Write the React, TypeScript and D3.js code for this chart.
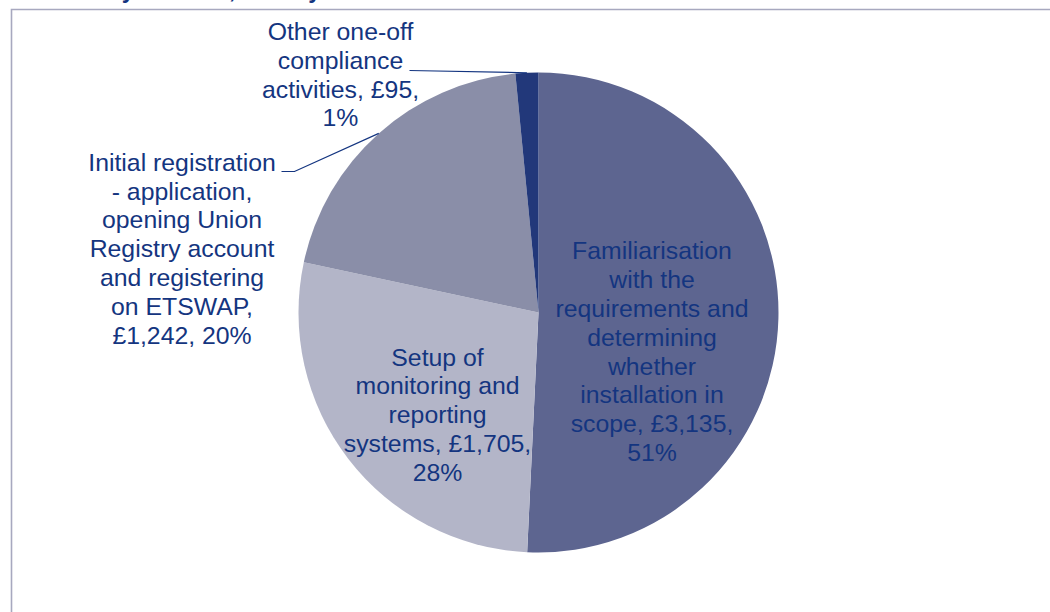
import * as d3 from "d3";
import { useEffect, useRef } from "react";

const categories = [
  "Familiarisation with the requirements and determining whether installation in scope",
  "Setup of monitoring and reporting systems",
  "Initial registration - application, opening Union Registry account and registering on ETSWAP",
  "Other one-off compliance activities",
];
const values = [3135, 1705, 1242, 95];
const labelLines = [
  ["Familiarisation", "with the", "requirements and", "determining", "whether", "installation in", "scope, £3,135,", "51%"],
  ["Setup of", "monitoring and", "reporting", "systems, £1,705,", "28%"],
  ["Initial registration", "- application,", "opening Union", "Registry account", "and registering", "on ETSWAP,", "£1,242, 20%"],
  ["Other one-off", "compliance", "activities, £95,", "1%"],
];
const colors = ["#5d6590", "#b3b5c8", "#8a8ea8", "#22387a"];
const title = "Summary of costs, initial year";

const W = 1050;
const H = 612;
const cx = 538.5;
const cy = 312.5;
const R = 240;
const fontSize = 24.8;
const lineH = 28.8;
const textColor = "#143580";
// label centre offsets from the pie centre
const labelOffset = [
  [113.5, 39],
  [-101, 102],
  [-356.5, -64],
  [-198, -238],
];

const App = () => {
  const ref = useRef<SVGSVGElement>(null);

  useEffect(() => {
    const svg = d3.select(ref.current);
    svg.selectAll("*").remove();

    // frame, open to the right and bottom
    svg.append("path")
      .attr("d", `M11.5,${H + 5} V9.5 H${W + 5}`)
      .attr("fill", "none")
      .attr("stroke", "#a7a8bf")
      .attr("stroke-width", 1.6);

    // title sits above the crop, only descenders show
    svg.append("text")
      .attr("x", 29.6)
      .attr("y", -1.8)
      .attr("font-family", "Liberation Sans, Arial, sans-serif")
      .attr("font-weight", "bold")
      .attr("font-size", 23)
      .attr("fill", textColor)
      .text(title);

    const pie = d3.pie<number>().sort(null).value((d) => d);
    const arcs = pie(values);
    const arc = d3.arc<d3.PieArcDatum<number>>().innerRadius(0).outerRadius(R);

    const g = svg.append("g").attr("transform", `translate(${cx},${cy})`);
    g.selectAll("path.slice")
      .data(arcs)
      .enter()
      .append("path")
      .attr("class", "slice")
      .attr("d", arc)
      .attr("fill", (_, i) => colors[i]);

    // leader lines for the outside labels
    const edge = (a: d3.PieArcDatum<number>, frac: number) => {
      const ang = a.startAngle + (a.endAngle - a.startAngle) * frac;
      return [R * Math.sin(ang), -R * Math.cos(ang)];
    };
    const p2 = edge(arcs[2], 0.5);
    g.append("polyline")
      .attr("points", [[-257, -141], [-244, -141], p2].map((p) => p.join(",")).join(" "))
      .attr("fill", "none")
      .attr("stroke", textColor)
      .attr("stroke-width", 1.2);
    const p3 = edge(arcs[3], 0.5);
    g.append("polyline")
      .attr("points", [[-129, -242], p3].map((p) => p.join(",")).join(" "))
      .attr("fill", "none")
      .attr("stroke", textColor)
      .attr("stroke-width", 1.2);

    labelLines.forEach((lines, i) => {
      const [ox, oy] = labelOffset[i];
      const t = g.append("text")
        .attr("text-anchor", "middle")
        .attr("font-family", "Liberation Sans, Arial, sans-serif")
        .attr("font-size", fontSize)
        .attr("fill", textColor);
      const top = oy - ((lines.length - 1) * lineH) / 2;
      lines.forEach((ln, j) => {
        t.append("tspan")
          .attr("x", ox)
          .attr("y", top + j * lineH)
          .attr("dy", "0.35em")
          .text(ln);
      });
    });
  }, []);

  return (
    <svg
      ref={ref}
      width={W}
      height={H}
      style={{ position: "absolute", left: 0, top: 0, background: "#fff" }}
      aria-label={categories.join("; ")}
    />
  );
};

export default App;
